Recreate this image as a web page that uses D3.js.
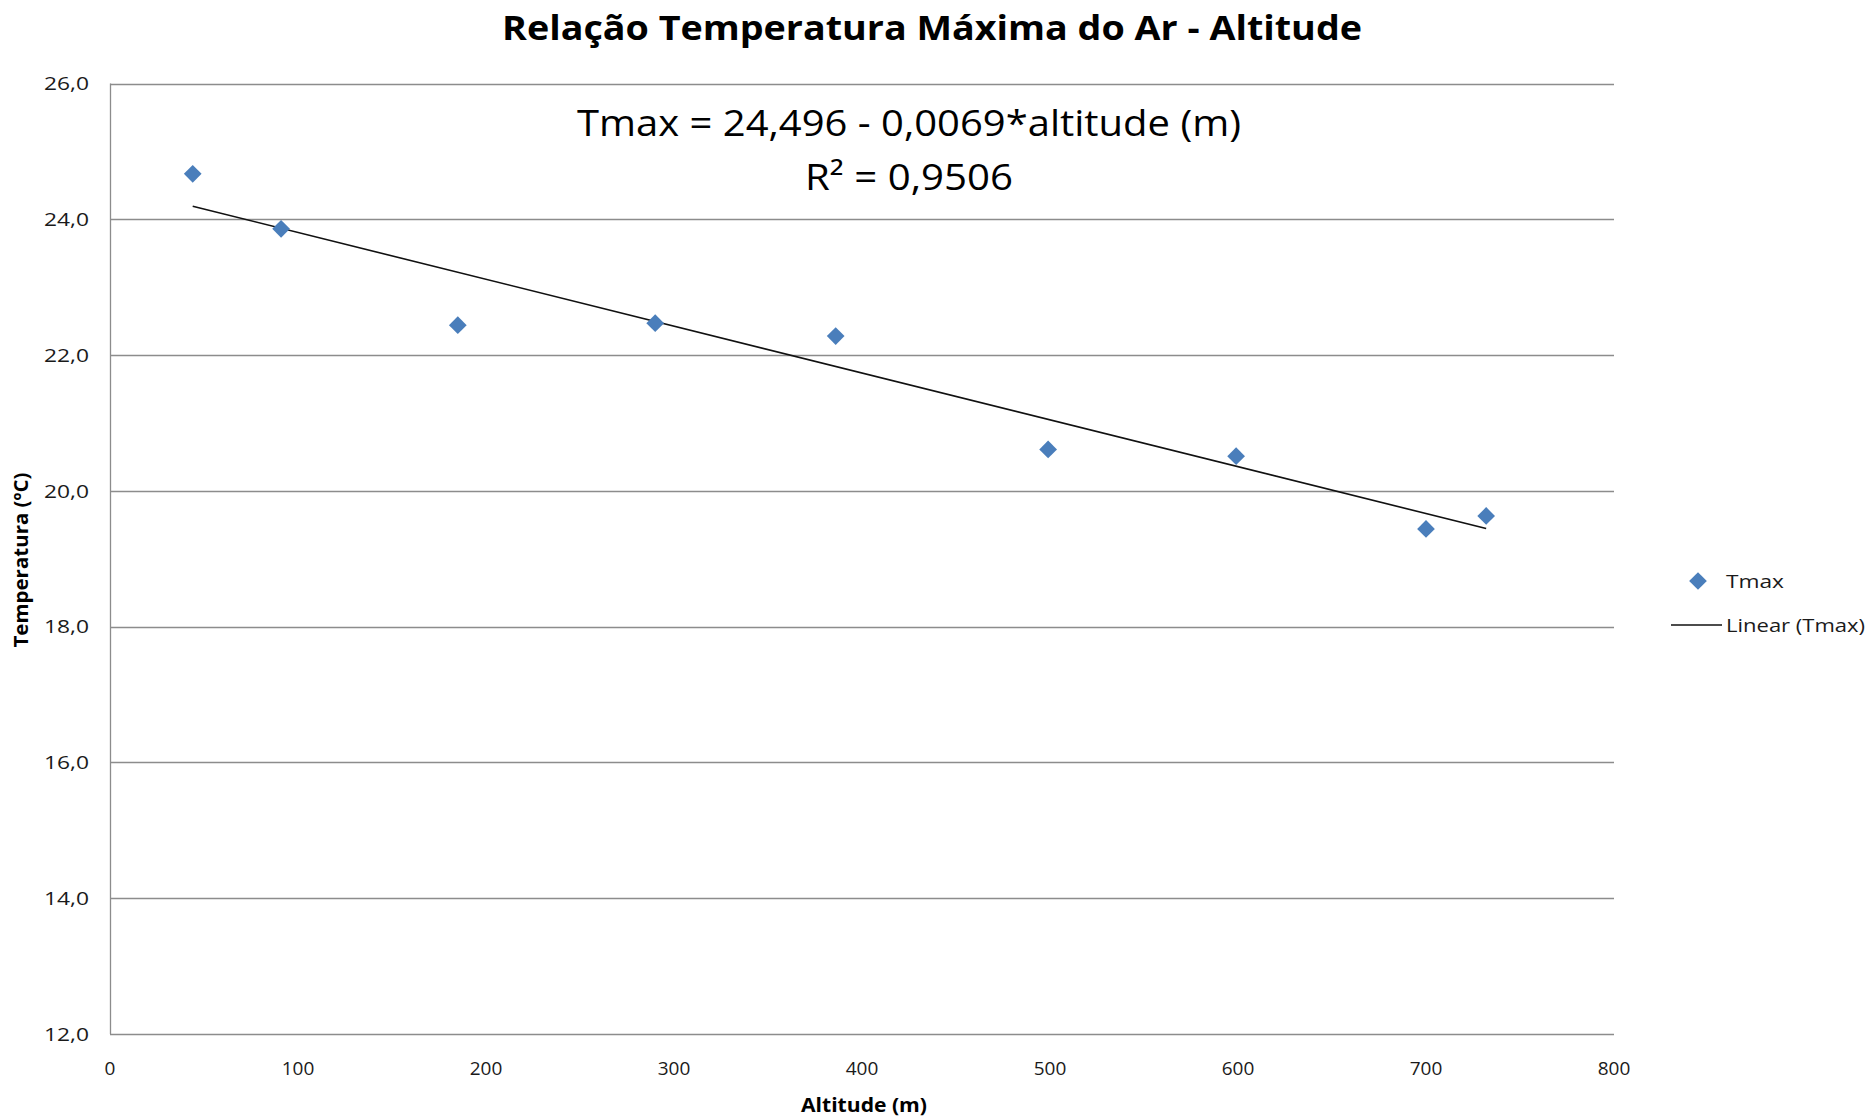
<!DOCTYPE html>
<html>
<head>
<meta charset="utf-8">
<script src="https://cdn.jsdelivr.net/npm/d3@7"></script>
<style>
  body { margin: 0; background: #fff; }
  text { font-family: "Open Sans", "Noto Sans", sans-serif; }
</style>
</head>
<body>
<script>
// Datos
var altitudes = [44, 91, 185, 290, 386, 499, 599, 700, 732];
var tmax = [24.67, 23.86, 22.44, 22.47, 22.28, 20.61, 20.51, 19.44, 19.63];
var intercepto = 24.496;
var pendiente = -0.0069;
var r2 = 0.9506;
var xTicks = [0, 100, 200, 300, 400, 500, 600, 700, 800];
var yTicks = [12, 14, 16, 18, 20, 22, 24, 26];

var ancho = 1868, alto = 1118;
var margen = { left: 110, right: 254, top: 83.5, bottom: 84 };

var svg = d3.select("body").append("svg")
    .attr("width", ancho)
    .attr("height", alto);

var x = d3.scaleLinear().domain([0, 800]).range([margen.left, ancho - margen.right]);
var y = d3.scaleLinear().domain([12, 26]).range([alto - margen.bottom, margen.top]);

function coma(v) { return String(v).replace(".", ","); }
var fmt = function(d) { return d.toFixed(1).replace(".", ","); };

// Líneas de la cuadrícula horizontal
svg.append("g")
   .selectAll("line")
   .data(yTicks)
   .enter().append("line")
   .attr("x1", x(0))
   .attr("x2", x(800))
   .attr("y1", function(d) { return Math.round(y(d)) + 0.5; })
   .attr("y2", function(d) { return Math.round(y(d)) + 0.5; })
   .attr("stroke", "#8c8c8c")
   .attr("stroke-width", 1.3);

// Eje vertical
svg.append("line")
   .attr("x1", x(0) + 0.5).attr("x2", x(0) + 0.5)
   .attr("y1", y(26)).attr("y2", y(12))
   .attr("stroke", "#8c8c8c")
   .attr("stroke-width", 1.3);

// Etiquetas del eje Y
svg.append("g")
   .selectAll("text")
   .data(yTicks)
   .enter().append("text")
   .attr("x", 89)
   .attr("y", function(d) { return y(d); })
   .attr("dy", "0.35em")
   .attr("text-anchor", "end")
   .attr("font-size", "19px")
   .attr("textLength", 45)
   .attr("lengthAdjust", "spacingAndGlyphs")
   .attr("fill", "#1a1a1a")
   .text(fmt);

// Etiquetas del eje X
svg.append("g")
   .selectAll("text")
   .data(xTicks)
   .enter().append("text")
   .attr("x", function(d) { return x(d); })
   .attr("y", 1068)
   .attr("dy", "0.35em")
   .attr("text-anchor", "middle")
   .attr("font-size", "19px")
   .attr("fill", "#1a1a1a")
   .text(function(d) { return d; });

// Línea de tendencia
var xMin = d3.min(altitudes), xMax = d3.max(altitudes);
svg.append("line")
   .attr("x1", x(xMin)).attr("y1", y(intercepto + pendiente * xMin))
   .attr("x2", x(xMax)).attr("y2", y(intercepto + pendiente * xMax))
   .attr("stroke", "#111")
   .attr("stroke-width", 1.6);

// Puntos (rombos)
var rombo = d3.symbol().type(d3.symbolDiamond2).size(200);
svg.append("g")
   .selectAll("path")
   .data(altitudes)
   .enter().append("path")
   .attr("d", rombo)
   .attr("transform", function(d, i) { return "translate(" + x(d) + "," + y(tmax[i]) + ")"; })
   .attr("fill", "#4a7ebb");

// Título
svg.append("text")
   .attr("x", 932).attr("y", 40)
   .attr("text-anchor", "middle")
   .attr("font-size", "34px")
   .attr("font-weight", "bold")
   .attr("textLength", 860)
   .attr("lengthAdjust", "spacingAndGlyphs")
   .text("Relação Temperatura Máxima do Ar - Altitude");

// Ecuación y R²
svg.append("text")
   .attr("x", 909).attr("y", 136)
   .attr("text-anchor", "middle")
   .attr("font-size", "36px")
   .attr("textLength", 664)
   .attr("lengthAdjust", "spacingAndGlyphs")
   .text("Tmax = " + coma(intercepto) + " - " + coma(-pendiente) + "*altitude (m)");

svg.append("text")
   .attr("x", 909).attr("y", 190)
   .attr("text-anchor", "middle")
   .attr("font-size", "36px")
   .attr("textLength", 208)
   .attr("lengthAdjust", "spacingAndGlyphs")
   .text("R² = " + coma(r2));

// Títulos de los ejes
svg.append("text")
   .attr("x", 864).attr("y", 1112)
   .attr("text-anchor", "middle")
   .attr("font-size", "20px")
   .attr("font-weight", "bold")
   .attr("textLength", 126)
   .attr("lengthAdjust", "spacingAndGlyphs")
   .text("Altitude (m)");

svg.append("text")
   .attr("transform", "translate(28,560) rotate(-90)")
   .attr("text-anchor", "middle")
   .attr("font-size", "20px")
   .attr("font-weight", "bold")
   .attr("textLength", 175)
   .attr("lengthAdjust", "spacingAndGlyphs")
   .text("Temperatura (ºC)");

// Leyenda
svg.append("path")
   .attr("d", rombo)
   .attr("transform", "translate(1698,581)")
   .attr("fill", "#4a7ebb");
svg.append("text")
   .attr("x", 1726).attr("y", 581)
   .attr("dy", "0.35em")
   .attr("font-size", "19px")
   .attr("fill", "#1a1a1a")
   .attr("textLength", 58)
   .attr("lengthAdjust", "spacingAndGlyphs")
   .text("Tmax");
svg.append("line")
   .attr("x1", 1671).attr("x2", 1722)
   .attr("y1", 625).attr("y2", 625)
   .attr("stroke", "#111")
   .attr("stroke-width", 1.6);
svg.append("text")
   .attr("x", 1726).attr("y", 625)
   .attr("dy", "0.35em")
   .attr("font-size", "19px")
   .attr("fill", "#1a1a1a")
   .attr("textLength", 139)
   .attr("lengthAdjust", "spacingAndGlyphs")
   .text("Linear (Tmax)");
</script>
</body>
</html>
